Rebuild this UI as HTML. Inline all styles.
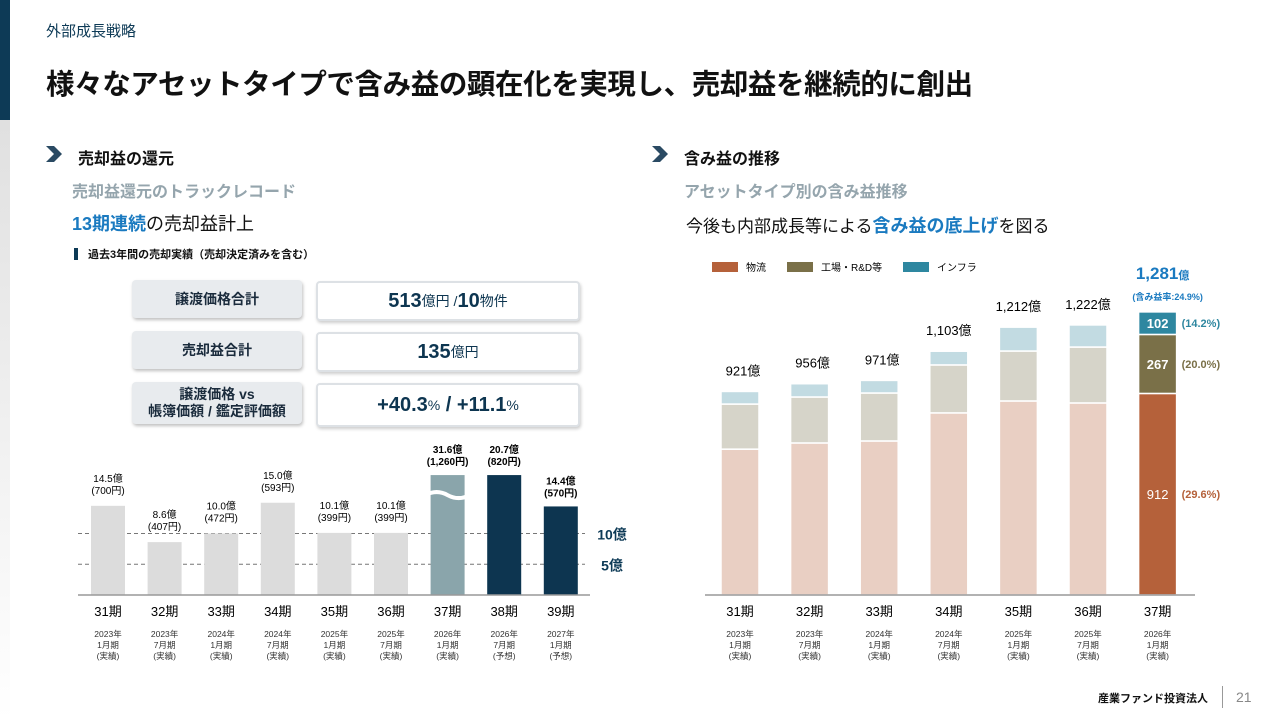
<!DOCTYPE html>
<html><head><meta charset="utf-8">
<style>
body{margin:0;width:1280px;height:720px;background:#fff;font-family:"Liberation Sans","Noto Sans CJK JP",sans-serif;position:relative;overflow:hidden;color:#111}
.a{position:absolute}
.box{position:absolute;border-radius:4px}
.lbl{background:#e8ebee;box-shadow:1px 2px 3px rgba(0,0,0,.25);font-weight:bold;font-size:14px;color:#1a2b3c;display:flex;align-items:center;justify-content:center;text-align:center;line-height:17px}
.val{background:#fff;border:2px solid #dde1e5;box-shadow:1px 2px 3px rgba(0,0,0,.2);color:#0d3550;font-weight:bold;display:flex;align-items:center;justify-content:center}
</style></head><body>
<div class="a" style="left:0;top:0;width:10px;height:120px;background:#0d3a56"></div>
<div class="a" style="left:0;top:120px;width:10px;height:600px;background:linear-gradient(#e0e0e0,#fff)"></div>
<div class="a" style="left:46px;top:20px;font-size:15px;color:#0d3a56">外部成長戦略</div>
<div class="a" style="left:46px;top:62px;font-size:28.5px;font-weight:bold;letter-spacing:-0.4px">様々なアセットタイプで含み益の顕在化を実現し、売却益を継続的に創出</div>

<svg class="a" style="left:46px;top:146px" width="16" height="16"><polygon points="0,0 8,0 16,8 8,16 0,16 8,8" fill="#2a4a63"/></svg>
<div class="a" style="left:78px;top:145px;font-size:16px;font-weight:bold">売却益の還元</div>
<div class="a" style="left:72px;top:178px;font-size:16px;font-weight:bold;color:#95a5ad">売却益還元のトラックレコード</div>
<div class="a" style="left:72px;top:210px;font-size:18px"><b style="color:#1a7ac0">13期連続</b>の売却益計上</div>
<div class="a" style="left:74px;top:246px;font-size:11px;font-weight:bold"><span style="display:inline-block;width:4px;height:12px;background:#0d3a56;vertical-align:-2px;margin-right:10px"></span>過去3年間の売却実績（売却決定済みを含む）</div>

<div class="box lbl" style="left:132px;top:280px;width:170px;height:38px">譲渡価格合計</div>
<div class="box val" style="left:316px;top:281px;width:260px;height:36px;font-size:20px">513<span style="font-size:14px;font-weight:normal">億円 / </span>10<span style="font-size:14px;font-weight:normal">物件</span></div>
<div class="box lbl" style="left:132px;top:331px;width:170px;height:38px">売却益合計</div>
<div class="box val" style="left:316px;top:332px;width:260px;height:36px;font-size:20px">135<span style="font-size:14px;font-weight:normal">億円</span></div>
<div class="box lbl" style="left:132px;top:382px;width:170px;height:42px">譲渡価格 vs<br>帳簿価額 / 鑑定評価額</div>
<div class="box val" style="left:316px;top:383px;width:260px;height:40px;font-size:20px">+40.3<span style="font-size:14px;font-weight:normal">%</span>&nbsp;/ +11.1<span style="font-size:14px;font-weight:normal">%</span></div>

<svg class="a" id="lc" style="left:0;top:0" width="640" height="720"></svg>

<svg class="a" style="left:652px;top:146px" width="16" height="16"><polygon points="0,0 8,0 16,8 8,16 0,16 8,8" fill="#2a4a63"/></svg>
<div class="a" style="left:684px;top:145px;font-size:16px;font-weight:bold">含み益の推移</div>
<div class="a" style="left:684px;top:178px;font-size:16px;font-weight:bold;color:#95a5ad">アセットタイプ別の含み益推移</div>
<div class="a" style="left:686px;top:212px;font-size:17px">今後も内部成長等による<b style="color:#1a7ac0;font-size:18px">含み益の底上げ</b>を図る</div>

<svg class="a" id="rc" style="left:0;top:0" width="1280" height="720"></svg>

<div class="a" style="left:1098px;top:690px;font-size:11px;font-weight:bold">産業ファンド投資法人</div>
<div class="a" style="left:1222px;top:686px;width:1px;height:22px;background:#999"></div>
<div class="a" style="left:1236px;top:689px;font-size:14px;color:#888">21</div>

<script>
const NS='http://www.w3.org/2000/svg';
function mk(svg,tag,at,txt){const e=document.createElementNS(NS,tag);for(const k in at)e.setAttribute(k,at[k]);if(txt!=null)e.textContent=txt;svg.appendChild(e);return e;}
// ---- left chart data ----
const periods=['31期','32期','33期','34期','35期','36期','37期','38期','39期'];
const dates=['2023年','2023年','2024年','2024年','2025年','2025年','2026年','2026年','2027年'];
const months=['1月期','7月期','1月期','7月期','1月期','7月期','1月期','7月期','1月期'];
const status=['(実績)','(実績)','(実績)','(実績)','(実績)','(実績)','(実績)','(予想)','(予想)'];
const gains=[14.5,8.6,10.0,15.0,10.1,10.1,31.6,20.7,14.4];
const perUnit=['700円','407円','472円','593円','399円','399円','1,260円','820円','570円'];
const refLines=[10,5];
const lc=document.getElementById('lc');
const base=595,k=6.15,cap=19.5,x0=108,step=56.6,bw=34;
const yL=v=>base-Math.min(v,cap)*k;
refLines.forEach(v=>{const l=mk(lc,'line',{x1:78,x2:585,y1:yL(v),y2:yL(v),stroke:'#777','stroke-dasharray':'4,3'});

const t=mk(lc,'text',{x:612,y:yL(v)+6,'text-anchor':'middle','font-size':14,'font-weight':'bold',fill:'#0d3a56'},v+'億');
});
gains.forEach((v,i)=>{const cx=x0+i*step;const fill=i<6?'#dcdcdc':(i==6?'#8aa5ab':'#0d3550');
const r=mk(lc,'rect',{x:cx-bw/2,y:yL(v),width:bw,height:base-yL(v),fill});

if(v>30){const w=mk(lc,'path',{d:`M${cx-22} ${yL(v)+20} q11 -6 22 0 t22 0`,stroke:'#fff','stroke-width':4,fill:'none'});
}
const bold=i>=6,ty=yL(v)-(bold?22:24);
const t1=mk(lc,'text',{x:cx,y:ty,'text-anchor':'middle','font-size':10,'font-weight':bold?'bold':'normal'},v.toFixed(1)+'億');

const t2=mk(lc,'text',{x:cx,y:ty+12,'text-anchor':'middle','font-size':10,'font-weight':bold?'bold':'normal'},'('+perUnit[i]+')');

const p=mk(lc,'text',{x:cx,y:616,'text-anchor':'middle','font-size':13},periods[i]);

[dates[i],months[i],status[i]].forEach((s,j)=>{const d=mk(lc,'text',{x:cx,y:637+j*11,'text-anchor':'middle','font-size':8.5,fill:'#333'},s);
});});
const ax=mk(lc,'line',{x1:78,x2:590,y1:base,y2:base,stroke:'#999','stroke-width':1.5});


// ---- right chart data ----
const rPeriods=['31期','32期','33期','34期','35期','36期','37期'];
const rDates=['2023年','2023年','2024年','2024年','2025年','2025年','2026年'];
const rMonths=['1月期','7月期','1月期','7月期','1月期','7月期','1月期'];
const logistics=[660,688,697,824,878,869,912];
const factory=[204,208,217,217,226,253,267];
const infra=[57,60,57,62,108,100,102];
const totals=['921億','956億','971億','1,103億','1,212億','1,222億','1,281億'];
const rates=['(29.6%)','(20.0%)','(14.2%)'];
const rc=document.getElementById('rc');
const rk=0.221,rx0=740,rstep=69.6,rbw=38;
const yR=v=>base-v*rk;
const lightC=['#e9cfc3','#d6d4c9','#c2dbe2'],darkC=['#b5613a','#7a7048','#2e87a0'];
[[712,'物流'],[787,'工場・R&D等'],[903,'インフラ']].forEach((l,i)=>{const r=mk(rc,'rect',{x:l[0],y:262,width:26,height:10,fill:darkC[i]});

const t=mk(rc,'text',{x:l[0]+34,y:271,'font-size':10},l[1]);});
rPeriods.forEach((p,i)=>{const cx=rx0+i*rstep,last=i==6;const cols=last?darkC:lightC;
const segs=[logistics[i],factory[i],infra[i]];let acc=0;
segs.forEach((v,j)=>{const y1=yR(acc+v),y0=yR(acc);const r=mk(rc,'rect',{x:cx-rbw/2,y:y1,width:rbw,height:y0-y1,fill:cols[j],stroke:'#fff','stroke-width':1.5});

if(last){const t=mk(rc,'text',{x:cx,y:(y0+y1)/2+5,'text-anchor':'middle','font-size':13,'font-weight':j?'bold':'normal',fill:'#fff'},v);

const rt=mk(rc,'text',{x:cx+24,y:(y0+y1)/2+4,'font-size':11,'font-weight':'bold',fill:darkC[j]},rates[j]);
}
acc+=v;});
if(!last){const t=mk(rc,'text',{x:cx-(i<3?-3:0),y:yR(acc)-16,'text-anchor':'middle','font-size':13},totals[i]);
}
else{const t=mk(rc,'text',{x:cx+5,y:279,'text-anchor':'middle','font-size':17,'font-weight':'bold',fill:'#1a7ac0'},'1,281');
mk(t,'tspan',{'font-size':11},'億');
const s=mk(rc,'text',{x:cx+10,y:300,'text-anchor':'middle','font-size':9,'font-weight':'bold',fill:'#1a7ac0'},'(含み益率:24.9%)');
}
const pt=mk(rc,'text',{x:cx,y:616,'text-anchor':'middle','font-size':13},p);
[rDates[i],rMonths[i],'(実績)'].forEach((s,j)=>{const d=mk(rc,'text',{x:cx,y:637+j*11,'text-anchor':'middle','font-size':8.5,fill:'#333'},s);
});});
const rax=mk(rc,'line',{x1:705,x2:1195,y1:base,y2:base,stroke:'#999','stroke-width':1.5});

</script>
</body></html>
